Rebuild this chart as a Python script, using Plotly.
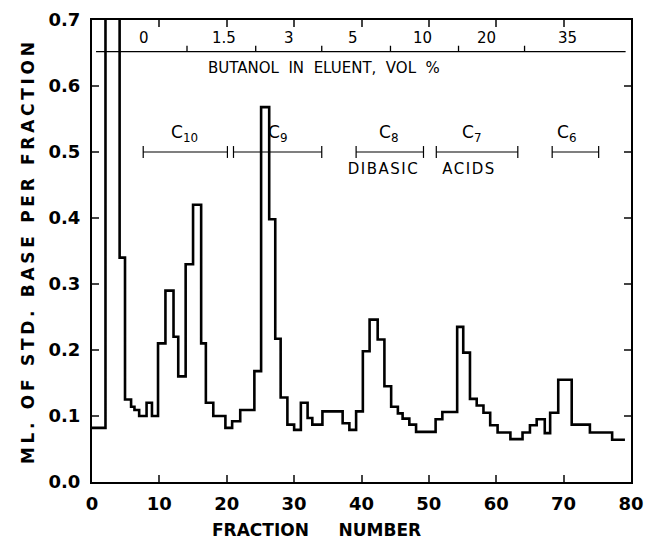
import plotly.graph_objects as go

# Step histogram: left edge of each step (fraction number) and its value (ml of std. base)
step_edges = [0, 2, 4.1, 4.9, 5.8, 6.3, 7.0, 8.1, 8.9, 9.8, 10.9, 12.1, 12.8, 13.9, 15.0,
              16.2, 16.9, 18.0, 19.8, 20.8, 22.0, 24.1, 25.1, 26.3, 27.2, 28.0, 29.0, 30.0,
              31.0, 32.0, 32.7, 34.2, 37.2, 38.2, 39.2, 40.2, 41.2, 42.4, 43.4, 44.4, 45.4,
              46.1, 47.1, 48.1, 51.0, 52.0, 54.2, 55.1, 56.1, 57.1, 58.1, 59.1, 60.2, 62.1,
              63.9, 65.0, 66.0, 67.2, 68.0, 69.2, 71.2, 73.9, 77.2]
step_end = 79.1
step_values = [0.082, 0.80, 0.34, 0.125, 0.114, 0.109, 0.100, 0.120, 0.100, 0.210, 0.290,
               0.220, 0.160, 0.330, 0.420, 0.210, 0.120, 0.100, 0.082, 0.092, 0.109, 0.168,
               0.568, 0.398, 0.217, 0.128, 0.087, 0.079, 0.120, 0.097, 0.087, 0.107, 0.089,
               0.079, 0.107, 0.198, 0.246, 0.216, 0.145, 0.114, 0.104, 0.096, 0.087, 0.076,
               0.095, 0.106, 0.235, 0.196, 0.126, 0.116, 0.105, 0.086, 0.075, 0.065, 0.075,
               0.086, 0.095, 0.074, 0.105, 0.155, 0.087, 0.075, 0.064]

# Butanol scale along the top
butanol_y = 0.652
butanol_span = [0.6, 79.2]
butanol_tick_x = [14.1, 24.3, 34.1, 44.3, 54.4, 64.2]
butanol_labels = ["0", "1.5", "3", "5", "10", "20", "35"]
butanol_label_x = [7.7, 19.6, 29.2, 38.8, 49.0, 58.6, 70.6]
butanol_title = "BUTANOL  IN  ELUENT,  VOL  %"

# Acid group brackets
group_names = ["C<sub>10</sub>", "C<sub>9</sub>", "C<sub>8</sub>", "C<sub>7</sub>", "C<sub>6</sub>"]
group_start = [7.6, 21.0, 39.2, 51.1, 68.3]
group_end = [20.1, 34.1, 49.2, 63.2, 75.2]
group_label_x = [13.8, 27.6, 44.0, 56.3, 70.4]
bracket_y = 0.5

x_title = "FRACTION\u00a0\u00a0\u00a0\u00a0\u00a0NUMBER"
y_title = "ML. OF STD. BASE PER FRACTION"

xs = step_edges + [step_end]
ys = step_values + [step_values[-1]]

FONT = "DejaVu Sans"
fig = go.Figure()
fig.add_trace(go.Scatter(x=xs, y=ys, mode="lines", line=dict(color="black", width=2.6, shape="hv"),
                         hoverinfo="skip", showlegend=False))

# butanol line with ticks
bx, by = [butanol_span[0], butanol_span[1]], [butanol_y, butanol_y]
fig.add_trace(go.Scatter(x=bx, y=by, mode="lines", line=dict(color="black", width=1.3), showlegend=False))
tx, ty = [], []
for t in butanol_tick_x:
    tx += [t, t, None]
    ty += [butanol_y, butanol_y + 0.009, None]
fig.add_trace(go.Scatter(x=tx, y=ty, mode="lines", line=dict(color="black", width=1.3), showlegend=False))

# brackets
gx, gy = [], []
for s, e in zip(group_start, group_end):
    gx += [s, e, None, s, s, None, e, e, None]
    gy += [bracket_y, bracket_y, None, bracket_y - 0.009, bracket_y + 0.009, None,
           bracket_y - 0.009, bracket_y + 0.009, None]
fig.add_trace(go.Scatter(x=gx, y=gy, mode="lines", line=dict(color="black", width=1.2), showlegend=False))

annotations = []
for lab, x in zip(butanol_labels, butanol_label_x):
    annotations.append(dict(x=x, y=butanol_y + 0.004, text=lab, showarrow=False, yanchor="bottom",
                            font=dict(family=FONT, size=15, color="black")))
annotations.append(dict(x=34.4, y=0.628, text=butanol_title, showarrow=False,
                        font=dict(family=FONT, size=15, color="black")))
for lab, x in zip(group_names, group_label_x):
    annotations.append(dict(x=x, y=0.528, text=lab, showarrow=False,
                            font=dict(family=FONT, size=17, color="black")))
annotations.append(dict(x=43.3, y=0.474, text="DIBASIC", showarrow=False,
                        font=dict(family=FONT, size=15, color="black")))
annotations.append(dict(x=56.0, y=0.474, text="ACIDS", showarrow=False,
                        font=dict(family=FONT, size=15, color="black")))
# axis titles
annotations.append(dict(xref="paper", yref="paper", x=0.4156, y=-0.104, text=x_title,
                        showarrow=False, xanchor="center", yanchor="middle",
                        font=dict(family=FONT, size=17, color="black", weight="bold")))
annotations.append(dict(xref="paper", yref="paper", x=-0.118, y=0.5, text=y_title,
                        showarrow=False, xanchor="center", yanchor="middle", textangle=-90,
                        font=dict(family=FONT, size=17, color="black", weight="bold")))

fig.update_layout(
    width=645, height=545,
    margin=dict(l=92, r=14, t=20, b=63, autoexpand=False),
    paper_bgcolor="white", plot_bgcolor="white",
    annotations=annotations,
    font=dict(family=FONT, color="black"),
    xaxis=dict(range=[0, 80], tick0=0, dtick=10, ticks="inside", ticklen=7, tickwidth=1.5,
               showline=True, linewidth=2, linecolor="black", mirror="ticks", showgrid=False,
               zeroline=False, ticklabelstandoff=4, automargin=False,
               tickfont=dict(family=FONT, size=18, color="black", weight="bold")),
    yaxis=dict(range=[0, 0.7], tick0=0, dtick=0.1, tickformat=".1f", ticks="inside", ticklen=7,
               tickwidth=1.5, showline=True, linewidth=2, linecolor="black", mirror="ticks",
               showgrid=False, zeroline=False, ticklabelstandoff=6, automargin=False,
               tickfont=dict(family=FONT, size=18, color="black", weight="bold")),
)

post = """
document.body.style.margin = '0';
document.querySelectorAll('.main-svg text').forEach(function (t) {
  var s = t.textContent;
  if (s.indexOf('ML. OF') === 0) { t.style.letterSpacing = '3.7px'; }
  else if (s === 'DIBASIC' || s === 'ACIDS') { t.style.letterSpacing = '1.5px'; }
});
"""
fig.write_html("out.html", post_script=post, config={"displayModeBar": False})
